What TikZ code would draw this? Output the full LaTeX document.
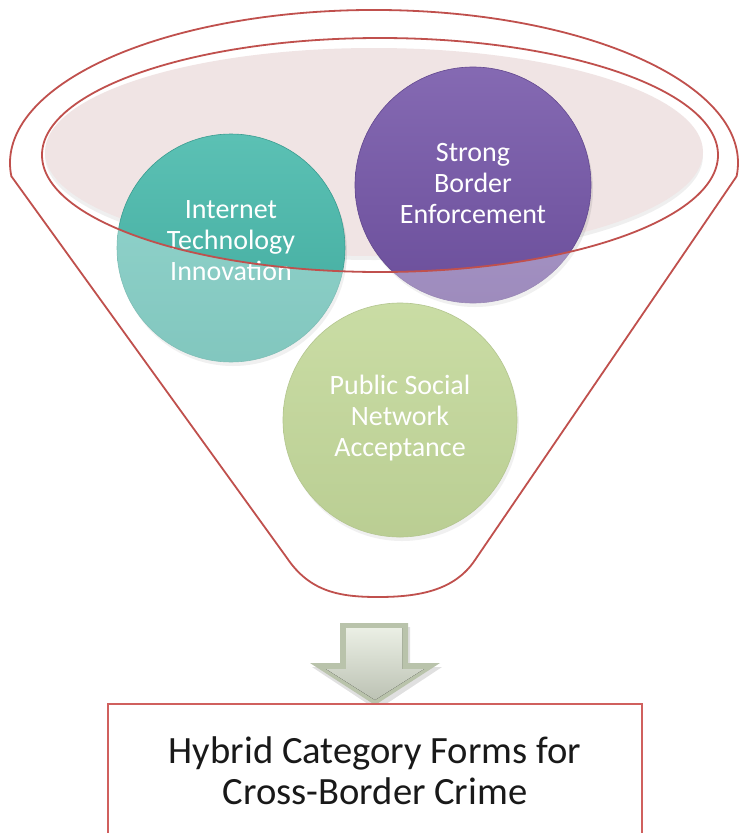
\documentclass[tikz,border=0pt]{standalone}
\usepackage{fontspec}
\setmainfont{Carlito}
\usetikzlibrary{shadows}
\definecolor{funred}{HTML}{C0504D}
\definecolor{boxred}{HTML}{D0605E}
\definecolor{pinkfill}{HTML}{F0E4E4}
\definecolor{tealc}{HTML}{45B8AA}
\definecolor{purplec}{HTML}{7455A8}
\definecolor{greenc}{HTML}{A3C462}
\definecolor{arrowdark}{HTML}{B9C3AB}
\definecolor{arrowlight}{HTML}{DDE4D3}
\def\myfunnel{(11.4,176.3) -- (287,558) .. controls (310,592) and (340,597) .. (378,597) .. controls (420,597) and (455,590) .. (475,560) -- (736.6,176.3) arc[start angle=5, end angle=-185, x radius=364, y radius=153] -- cycle}
\begin{document}
\begin{tikzpicture}[x=1pt,y=-1pt,
  ball/.style={circle, inner sep=0pt, top color=#1!88!white, bottom color=#1!92!black, draw=#1!85!black, line width=0.6pt,
    drop shadow={opacity=0.18, shadow xshift=2pt, shadow yshift=-4pt}},
  balltext/.style={text=white, font=\fontsize{28}{31}\selectfont, align=center, inner sep=0pt},
  funline/.style={draw=funred, line width=1.8pt},
  resultbox/.style={draw=boxred, line width=1.6pt, fill=white, minimum width=534pt, minimum height=160pt, inner sep=0pt},
  resulttext/.style={font=\fontsize{38.6}{41}\selectfont, align=center, text=black!90, inner sep=0pt}
]
\useasboundingbox (0,0) rectangle (740,833);
\fill[white] (0,0) rectangle (740,833);

% pink top surface of funnel
\fill[pinkfill, drop shadow={opacity=0.12, shadow xshift=0pt, shadow yshift=-4pt}] (374,152) ellipse (329 and 104);

% the three circles
\node[ball=tealc, minimum size=228pt] (tech) at (231,248) {};
\node[ball=purplec, minimum size=236pt] (border) at (473,185) {};
\node[ball=greenc, minimum size=234pt] (social) at (400,420) {};

% faded funnel body outside the top ellipse
\begin{scope}
  \clip \myfunnel;
  \fill[white, opacity=0.35, even odd rule] (0,0) rectangle (740,833) (380,155) ellipse (338 and 117);
\end{scope}

% texts in the circles
\node[balltext] (techtext) at (231,241) {Internet\\Technology\\Innovation};
\node[balltext] (bordertext) at (473,184) {Strong\\Border\\Enforcement};
\node[balltext] (socialtext) at (400,418) {Public Social\\Network\\Acceptance};

% funnel outlines
\draw[funline] (380,155) ellipse (338 and 117);
\draw[funline] \myfunnel;

% block arrow
\fill[black, opacity=0.12] (342,627) -- (410,627) -- (410,667) -- (442,667) -- (377,710) -- (312,667) -- (342,667) -- cycle;
\fill[arrowdark] (340,623) -- (408,623) -- (408,663) -- (440,663) -- (375,705) -- (310,663) -- (340,663) -- cycle;
\fill[top color=arrowlight!60!white, bottom color=arrowlight!85!black] (346,628) -- (402,628) -- (402,669) -- (424,669) -- (375,700) -- (326,669) -- (346,669) -- cycle;

% result box
\node[resultbox, anchor=north] (result) at (375,703) {};
\node[resulttext] (resultlabel) at (375,771) {Hybrid Category Forms for\\Cross-Border Crime};
\end{tikzpicture}
\end{document}
